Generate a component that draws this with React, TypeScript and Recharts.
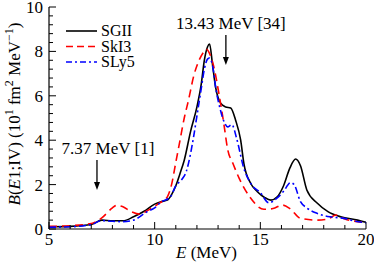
import React from 'react';
import { LineChart, Line, XAxis, YAxis, ReferenceLine, Legend } from 'recharts';

// ---- data ----
const sgiiE = [5, 6, 7, 7.5, 8, 8.5, 9, 9.5, 10, 10.3, 10.6, 10.8, 11, 11.2, 11.4, 11.7, 12.0, 12.2, 12.35, 12.5, 12.6, 12.73, 12.88, 13.12, 13.36, 13.6, 13.83, 14.07, 14.22, 14.54, 14.86, 15.2, 15.5, 15.8, 16.1, 16.4, 16.67, 16.9, 17.2, 17.7, 18.2, 18.8, 19.6, 20];
const sgiiB = [0.1, 0.12, 0.2, 0.4, 0.37, 0.37, 0.55, 0.8, 1.12, 1.23, 1.3, 1.55, 1.95, 2.5, 3.1, 4.4, 5.5, 6.5, 7.6, 8.2, 8.33, 7.46, 6.4, 5.67, 5.5, 5.45, 4.9, 4.0, 2.96, 2.06, 1.68, 1.42, 1.3, 1.45, 1.95, 2.75, 3.15, 2.85, 1.76, 1.16, 0.78, 0.55, 0.4, 0.3];

const ski3E = [5, 6, 7, 7.5, 8, 8.2, 8.5, 8.9, 9.3, 9.7, 10.2, 10.6, 10.8, 11.0, 11.2, 11.4, 11.6, 11.85, 12.1, 12.3, 12.45, 12.6, 12.8, 13.04, 13.27, 13.46, 13.7, 14, 14.5, 15.17, 15.6, 16.04, 16.4, 16.9, 17.7, 18.2, 18.57, 19.0, 19.6, 20];
const ski3B = [0.12, 0.15, 0.25, 0.5, 0.95, 1.07, 1.0, 0.78, 0.67, 0.85, 1.15, 1.45, 2.0, 3.0, 4.0, 5.0, 5.8, 6.9, 7.6, 7.95, 8.1, 7.9, 7.3, 6.1, 4.76, 3.56, 2.96, 2.28, 1.45, 0.89, 0.92, 1.08, 0.92, 0.48, 0.4, 0.45, 0.63, 0.45, 0.33, 0.28];

const sly5E = [5, 6, 7, 7.5, 8, 8.5, 9, 9.64, 10, 10.28, 10.75, 11.0, 11.3, 11.5, 11.7, 11.85, 12.0, 12.2, 12.35, 12.5, 12.6, 12.75, 12.9, 13.1, 13.3, 13.45, 13.65, 13.9, 14.2, 14.6, 15.0, 15.4, 15.8, 16.1, 16.43, 16.6, 16.9, 17.2, 17.7, 18.3, 18.96, 19.5, 20];
const sly5B = [0.08, 0.1, 0.2, 0.38, 0.35, 0.33, 0.4, 0.78, 0.95, 1.2, 1.46, 1.95, 2.25, 2.6, 3.4, 4.2, 5.1, 6.3, 7.2, 7.65, 7.7, 7.3, 6.3, 5.4, 4.8, 4.6, 4.7, 4.0, 2.8, 1.98, 1.64, 1.18, 1.4, 1.7, 2.09, 2.0, 1.23, 0.95, 0.7, 0.55, 0.48, 0.35, 0.28];

const xTicks = [5, 6, 7, 8, 9, 10, 11, 12, 13, 14, 15, 16, 17, 18, 19, 20];
const xMajor = [5, 10, 15, 20];
const yTicks = [0, 0.4, 0.8, 1.2, 1.6, 2, 2.4, 2.8, 3.2, 3.6, 4, 4.4, 4.8, 5.2, 5.6, 6, 6.4, 6.8, 7.2, 7.6, 8, 8.4, 8.8, 9.2, 9.6, 10];
const yMajor = [0, 2, 4, 6, 8, 10];

const seriesNames = ['SGII', 'SkI3', 'SLy5'];
const seriesColors = ['#000000', '#ff0000', '#0000ff'];
const seriesDash = ['', '8 5', '7 3 2 3'];

const annoText = ['7.37 MeV [1]', '13.43 MeV [34]'];
const arrowE = [7.27, 13.37];
const arrowTop = [3.11, 8.74];
const arrowTip = [1.76, 7.39];
const textDx = [11, 5];

const zip = (es: number[], bs: number[]) => es.map((e, i) => ({ e, b: bs[i] }));
const seriesData = [zip(sgiiE, sgiiB), zip(ski3E, ski3B), zip(sly5E, sly5B)];

const FONT = '"Liberation Serif", "Times New Roman", serif';
const isMajorY = (v: number) => yMajor.some((m) => Math.abs(m - v) < 1e-6);

const BottomTick = (p: any) => {
  const v = p.payload.value;
  const major = xMajor.includes(v);
  return (
    <g>
      <line x1={p.x} y1={p.y} x2={p.x} y2={p.y - (major ? 7 : 4)} stroke="#000" strokeWidth={1} />
      {major && (
        <text x={p.x} y={p.y + 16} textAnchor="middle" fontFamily={FONT} fontSize={17} fill="#000">
          {v}
        </text>
      )}
    </g>
  );
};
const TopTick = (p: any) => {
  const v = p.payload.value;
  const major = xMajor.includes(v);
  return <line x1={p.x} y1={p.y} x2={p.x} y2={p.y + (major ? 7 : 4)} stroke="#000" strokeWidth={1} />;
};
const LeftTick = (p: any) => {
  const v = p.payload.value;
  const major = isMajorY(v);
  return (
    <g>
      <line x1={p.x} y1={p.y} x2={p.x + (major ? 7 : 4)} y2={p.y} stroke="#000" strokeWidth={1} />
      {major && (
        <text x={p.x - 6} y={p.y + 6} textAnchor="end" fontFamily={FONT} fontSize={17} fill="#000">
          {Math.round(v)}
        </text>
      )}
    </g>
  );
};
const RightTick = (p: any) => {
  const v = p.payload.value;
  const major = isMajorY(v);
  return <line x1={p.x} y1={p.y} x2={p.x - (major ? 7 : 4)} y2={p.y} stroke="#000" strokeWidth={1} />;
};

const makeArrow = (i: number) => (p: any) => {
  const x = p.x1;
  const yTop = Math.min(p.y1, p.y2);
  const yTip = Math.max(p.y1, p.y2);
  return (
    <g>
      <line x1={x} y1={yTop} x2={x} y2={yTip - 6} stroke="#000" strokeWidth={1.3} />
      <path d={`M${x - 3},${yTip - 8} L${x + 3},${yTip - 8} L${x},${yTip} Z`} fill="#000" />
      <text x={x + textDx[i]} y={yTop - 6} textAnchor="middle" fontFamily={FONT} fontSize={17} fill="#000">
        {annoText[i]}
      </text>
    </g>
  );
};

const LegendBox = () => (
  <svg width={140} height={60} style={{ position: 'absolute', left: 60, top: 18, overflow: 'visible' }}>
    {seriesNames.map((n, i) => {
      const y = 13 + i * 15.5;
      return (
        <g key={n}>
          <line x1={6} y1={y} x2={37} y2={y} stroke={seriesColors[i]} strokeWidth={1.6} strokeDasharray={i === 1 ? '7 4' : i === 2 ? '6 3 2 3' : undefined} />
          <text x={41} y={y + 5} fontFamily={FONT} fontSize={16} fill="#000">
            {n}
          </text>
        </g>
      );
    })}
  </svg>
);

const YLabel = (p: any) => {
  const vb = p.viewBox;
  const x = vb.x + 20;
  const y = vb.y + vb.height / 2 - 4;
  return (
    <text x={x} y={y} transform={`rotate(-90, ${x}, ${y})`} textAnchor="middle" fontFamily={FONT} fontSize={17} fill="#000">
      <tspan fontStyle="italic">B</tspan>
      <tspan>(</tspan>
      <tspan fontStyle="italic">E</tspan>
      <tspan>1;IV)  (10</tspan>
      <tspan dy={-7} fontSize={12}>1</tspan>
      <tspan dy={7}> fm</tspan>
      <tspan dy={-7} fontSize={12}>2</tspan>
      <tspan dy={7}> MeV</tspan>
      <tspan dy={-7} fontSize={12}>−1</tspan>
      <tspan dy={7}>)</tspan>
    </text>
  );
};
const XLabel = (p: any) => {
  const vb = p.viewBox;
  return (
    <text x={vb.x + vb.width / 2 - 1} y={vb.y + 29} textAnchor="middle" fontFamily={FONT} fontSize={17} fill="#000">
      <tspan fontStyle="italic">E</tspan>
      <tspan> (MeV)</tspan>
    </text>
  );
};

export default function App() {
  return (
    <div style={{ position: 'absolute', left: 0, top: 0, width: 374, height: 264, background: '#fff' }}>
      <LineChart width={374} height={264} margin={{ top: 7, right: 8, bottom: 0, left: 0 }}>
        <XAxis
          xAxisId="b"
          type="number"
          dataKey="e"
          domain={[5, 20]}
          allowDataOverflow
          ticks={xTicks}
          interval={0}
          tickLine={false}
          tickSize={0}
          tickMargin={0}
          tick={<BottomTick />}
          height={35}
          axisLine={{ stroke: '#000', strokeWidth: 1.2 }}
          label={{ content: <XLabel /> } as any}
        />
        <XAxis
          xAxisId="t"
          orientation="top"
          type="number"
          dataKey="e"
          domain={[5, 20]}
          allowDataOverflow
          ticks={xTicks}
          interval={0}
          tickLine={false}
          tickSize={0}
          tickMargin={0}
          tick={<TopTick />}
          height={0}
          axisLine={{ stroke: '#000', strokeWidth: 1.2 }}
        />
        <YAxis
          yAxisId="l"
          type="number"
          domain={[0, 10]}
          allowDataOverflow
          ticks={yTicks}
          interval={0}
          tickLine={false}
          tickSize={0}
          tickMargin={0}
          tick={<LeftTick />}
          width={49}
          axisLine={{ stroke: '#000', strokeWidth: 1.2 }}
          label={{ content: <YLabel /> } as any}
        />
        <YAxis
          yAxisId="r"
          orientation="right"
          type="number"
          domain={[0, 10]}
          allowDataOverflow
          ticks={yTicks}
          interval={0}
          tickLine={false}
          tickSize={0}
          tickMargin={0}
          tick={<RightTick />}
          width={0}
          axisLine={{ stroke: '#000', strokeWidth: 1.2 }}
        />
        {seriesData.map((d, i) => (
          <Line
            key={seriesNames[i]}
            xAxisId="b"
            yAxisId="l"
            data={d}
            dataKey="b"
            name={seriesNames[i]}
            type="monotone"
            stroke={seriesColors[i]}
            strokeWidth={1.6}
            strokeDasharray={seriesDash[i] || undefined}
            dot={false}
            activeDot={false}
            isAnimationActive={false}
          />
        ))}
        {arrowE.map((e, i) => (
          <ReferenceLine
            key={i}
            xAxisId="b"
            yAxisId="l"
            segment={[
              { x: e, y: arrowTop[i] },
              { x: e, y: arrowTip[i] },
            ]}
            shape={makeArrow(i)}
            ifOverflow="visible"
          />
        ))}
        <Legend
          layout="horizontal"
          verticalAlign="middle"
          align="center"
          content={<LegendBox />}
          wrapperStyle={{ position: 'absolute', left: 0, top: 0, width: 374, height: 0 }}
        />
      </LineChart>
    </div>
  );
}
